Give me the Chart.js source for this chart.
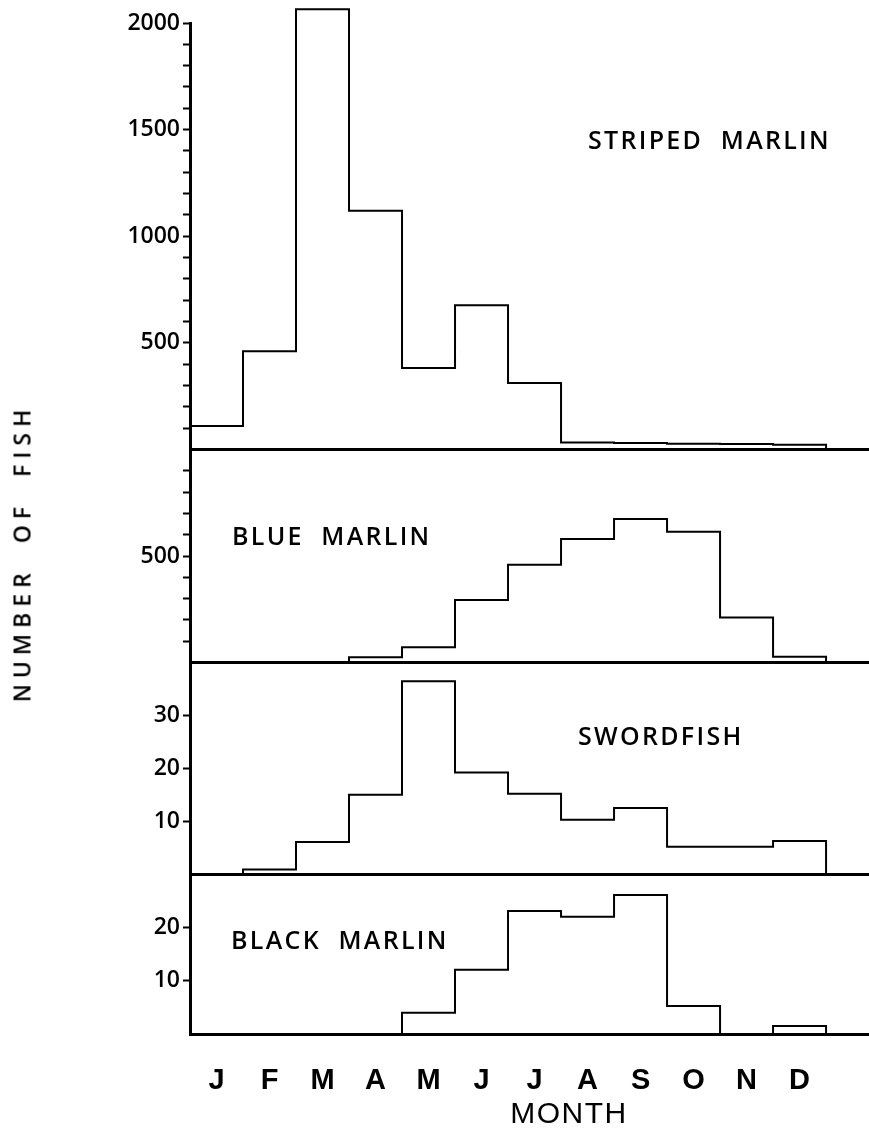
<!DOCTYPE html>
<html><head><meta charset="utf-8">
<script src="https://cdn.jsdelivr.net/npm/chart.js@4/dist/chart.umd.min.js"></script>
<style>
html,body{margin:0;padding:0;background:#fff;}
#wrap{position:relative;width:869px;height:1134px;overflow:hidden;background:#fff;}
#c{position:absolute;left:0;top:0;}
.lbl{position:absolute;font-family:'Open Sans',sans-serif;font-weight:600;font-size:25px;color:#000;white-space:pre;line-height:1;letter-spacing:2.3px;}
#ytitle{position:absolute;left:22px;top:553px;transform:translate(-50%,-50%) rotate(-90deg);font-family:'Open Sans',sans-serif;font-weight:600;font-size:23px;letter-spacing:6px;white-space:pre;line-height:1;color:#000;}
#xtitle{position:absolute;left:569px;top:1113px;transform:translate(-50%,-50%);font-family:'Liberation Sans',Arial,sans-serif;font-size:30px;letter-spacing:1.5px;line-height:1;white-space:pre;color:#000;}
</style></head><body>
<div id="wrap">
<canvas id="c" width="869" height="1134"></canvas>
<div class="lbl" style="left:588px;top:127px">STRIPED  MARLIN</div>
<div class="lbl" style="left:232px;top:523px">BLUE  MARLIN</div>
<div class="lbl" style="left:578px;top:723px">SWORDFISH</div>
<div class="lbl" style="left:231px;top:927px">BLACK  MARLIN</div>
<div id="ytitle">NUMBER  OF  FISH</div>
<div id="xtitle">MONTH</div>
</div>
<script>
// Month categories
const months = ['J','F','M','A','M','J','J','A','S','O','N','D'];
// Series values (number of fish per month)
const stripedMarlin = [110, 460, 2064, 1120, 382, 676, 312, 32, 30, 27, 25, 22];
const blueMarlin    = [0, 0, 0, 25, 72, 294, 459, 580, 674, 614, 212, 28];
const swordfish     = [0, 1, 6.2, 15.1, 36.5, 19.3, 15.3, 10.4, 12.6, 5.3, 5.3, 6.4];
const blackMarlin   = [0, 0, 0, 0, 4, 12.1, 23.2, 22.1, 26.2, 5.3, 0, 1.5];
// Tick labels shown on each panel's axis
const stripedTicks = [500, 1000, 1500, 2000];
const blueTicks    = [500];
const swordTicks   = [10, 20, 30];
const blackTicks   = [10, 20];

function toSteps(vals){
  const pts = vals.map((v,i)=>({x:i, y:v}));
  pts.push({x:vals.length, y:0});
  return pts;
}

function yAxis(max, step, weight, stackWeight, labels, showTopTick){
  return {
    type:'linear', position:'left', stack:'fish', stackWeight:stackWeight, weight:weight,
    min:0, max:max,
    afterFit:(s)=>{ s.width = 190; },
    border:{display:true, color:'#000', width:3},
    grid:{
      display:true, drawOnChartArea:true, drawTicks:true, tickLength:7, tickWidth:2,
      color:(c)=> (c.tick && c.tick.value===0) ? '#000' : 'rgba(0,0,0,0)',
      lineWidth:(c)=> (c.tick && c.tick.value===0) ? 3 : 1,
      tickColor:(c)=>{ const v = c.tick ? c.tick.value : 0; if (v===0) return 'rgba(0,0,0,0)'; if (v===max && !showTopTick) return 'rgba(0,0,0,0)'; return '#000'; }
    },
    ticks:{
      stepSize:step, autoSkip:false, padding:3, color:'#000',
      font:{family:"'Open Sans', sans-serif", size:23, weight:'600'},
      callback:(v)=> labels.includes(v) ? String(v) : ''
    }
  };
}

const line = (data, axis, clip)=>({
  data: toSteps(data), yAxisID: axis, stepped: true, borderColor:'#000', borderWidth:2,
  pointRadius:0, fill:false, tension:0, clip: clip
});

new Chart(document.getElementById('c'), {
  type:'line',
  data:{ datasets:[
    line(stripedMarlin, 'yS', false),
    line(blueMarlin, 'yB', undefined),
    line(swordfish, 'yW', undefined),
    line(blackMarlin, 'yK', undefined)
  ]},
  options:{
    responsive:false, animation:false, devicePixelRatio:1, events:[],
    layout:{padding:{top:23, left:0, right:0, bottom:0}},
    plugins:{legend:{display:false}, tooltip:{enabled:false}},
    scales:{
      x:{
        type:'linear', min:0, max:12.81,
        afterFit:(s)=>{ s.height = 100; },
        afterBuildTicks:(s)=>{ s.ticks = months.map((m,i)=>({value:i+0.5})); },
        grid:{display:false, drawTicks:false},
        border:{display:true, color:'#000', width:3},
        ticks:{autoSkip:false, maxRotation:0, padding:30, color:'#000',
          font:{family:"'Liberation Sans', Arial, sans-serif", size:29, weight:'bold'},
          callback:(v,i)=> months[i]},
        title:{display:false}
      },
      yS: yAxis(2000, 100, 4, 426, stripedTicks, true),
      yB: yAxis(1000, 100, 3, 213, blueTicks, false),
      yW: yAxis(40, 10, 2, 212, swordTicks, false),
      yK: yAxis(30, 10, 1, 159, blackTicks, false)
    }
  }
});
</script>
</body></html>
